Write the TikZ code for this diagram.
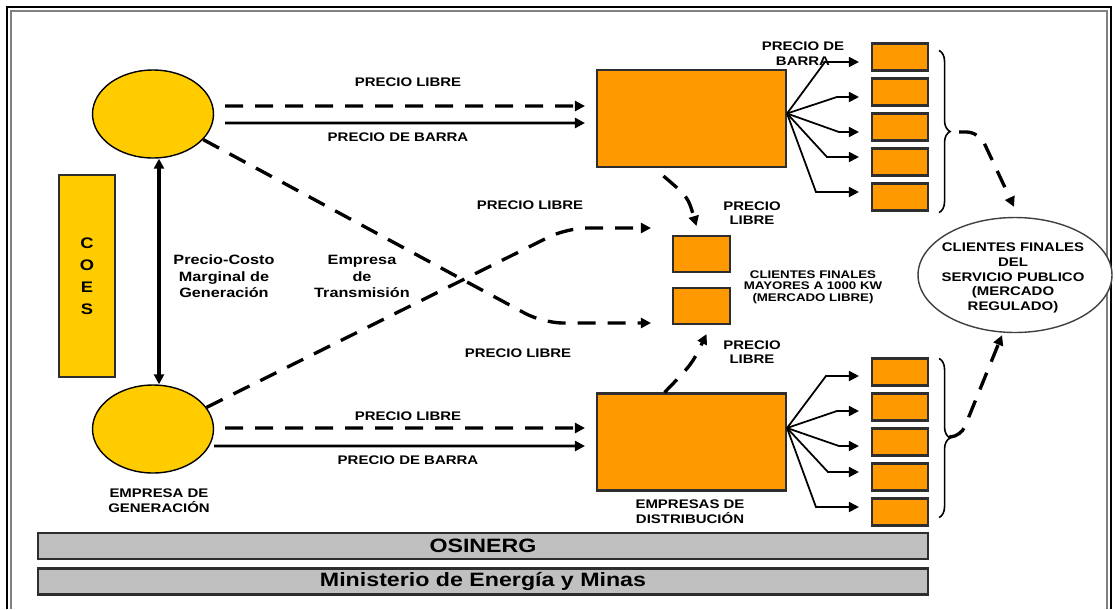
\documentclass[tikz,border=0pt]{standalone}
\usepackage{fontspec}
\setmainfont{Liberation Sans}[FakeStretch=1.2]
\usetikzlibrary{arrows.meta,calc,shapes.geometric,decorations.pathreplacing}
\definecolor{genyellow}{HTML}{FFCC00}
\definecolor{distorange}{HTML}{FF9900}
\definecolor{bargray}{HTML}{C0C0C0}
\definecolor{edgegray}{HTML}{2E2E2E}

\begin{document}
\begin{tikzpicture}
    [x=0.02cm,y=-0.02cm,>={Triangle[length=0.2cm,width=0.2cm]},
    gen/.style={ellipse,draw=black,thick,fill=genyellow,minimum width=2.42cm,minimum height=1.76cm},
    coesbox/.style={rectangle,draw=edgegray,line width=1.2pt,fill=genyellow,minimum width=1.12cm,minimum height=4.04cm,
        align=center,font=\fontsize{8.7}{12.5}\selectfont\bfseries},
    dist/.style={rectangle,draw=edgegray,line width=1.2pt,fill=distorange,minimum width=3.78cm,minimum height=1.94cm},
    client/.style={rectangle,draw=edgegray,line width=1.2pt,fill=distorange,minimum width=1.12cm,minimum height=0.54cm},
    bigclient/.style={rectangle,draw=edgegray,line width=1.2pt,fill=distorange,minimum width=1.14cm,minimum height=0.72cm},
    regulated/.style={ellipse,draw=black!75,thick,fill=white,minimum width=3.88cm,minimum height=2.3cm},
    agency/.style={rectangle,draw=edgegray,line width=1.2pt,fill=bargray,minimum width=17.8cm,minimum height=0.52cm,
        inner sep=0pt,font=\fontsize{11}{13}\selectfont\bfseries},
    lbl/.style={inner sep=0pt,align=center,font=\fontsize{7.1}{8.3}\selectfont\bfseries},
    tinylbl/.style={inner sep=0pt,align=center,font=\fontsize{6.3}{6.6}\selectfont\bfseries},
    notelbl/.style={inner sep=0pt,align=center,font=\fontsize{7.7}{9.4}\selectfont\bfseries},
    libre/.style={->,line width=1.9pt,dash pattern=on 0.36cm off 0.24cm},
    barra/.style={->,line width=1.6pt},
    fan/.style={->,line width=1pt},
    brace/.style={decorate,decoration={brace,amplitude=0.22cm},line width=0.9pt}]

    \useasboundingbox (0,0) rectangle (1115,609);
    \draw[line width=1.6pt] (7,609) -- (7,7) -- (1111,7) -- (1111,609);
    \draw[gray,line width=0.8pt] (11,609) -- (11,11) -- (1107,11) -- (1107,609);

    % generadoras y COES
    \node[gen] (genA) at (153,114) {};
    \node[gen] (genB) at (153,429) {};
    \node[coesbox] (coes) at (87,276) {C\\O\\E\\S};
    \node[lbl] (genlbl) at (159,500.5) {EMPRESA DE\\GENERACIÓN};
    \node[notelbl] (costo) at (224,276.5) {Precio-Costo\\Marginal de\\Generación};
    \node[notelbl] (transm) at (362,276.5) {Empresa\\de\\Transmisión};

    % distribuidoras
    \node[dist] (distA) at (691.5,118.5) {};
    \node[dist] (distB) at (691.5,442) {};
    \node[lbl] (distlbl) at (690,511.5) {EMPRESAS DE\\DISTRIBUCIÓN};

    % clientes
    \foreach \i/\y in {1/57,2/92,3/127,4/162,5/197}
        \node[client] (cA\i) at (900,\y) {};
    \foreach \i/\y in {1/372,2/407,3/442,4/477,5/512}
        \node[client] (cB\i) at (900,\y) {};
    \node[bigclient] (ml1) at (701.5,254) {};
    \node[bigclient] (ml2) at (701.5,306) {};
    \node[tinylbl] (mllbl) at (813,287) {CLIENTES FINALES\\MAYORES A 1000 KW\\(MERCADO LIBRE)};
    \node[regulated] (reg) at (1015,275) {};
    \node[lbl] (reglbl) at (1013,278) {CLIENTES FINALES\\DEL\\SERVICIO PUBLICO\\(MERCADO\\REGULADO)};

    \node[agency] (osinerg) at (483,546) {OSINERG};
    \node[agency] (minem) at (483,581.5) {Ministerio de Energía y Minas};

    % precios
    \node[lbl] (plA) at (408,82) {PRECIO LIBRE};
    \node[lbl] (pbA) at (398,137) {PRECIO DE BARRA};
    \node[lbl] (plB) at (408,416) {PRECIO LIBRE};
    \node[lbl] (pbB) at (408,460) {PRECIO DE BARRA};
    \node[lbl] (plX1) at (530,205) {PRECIO LIBRE};
    \node[lbl] (plX2) at (518,353) {PRECIO LIBRE};
    \node[lbl] (plD1) at (752,213) {PRECIO\\LIBRE};
    \node[lbl] (plD2) at (752,352) {PRECIO\\LIBRE};
    \node[lbl] (pbD) at (803,53.5) {PRECIO DE\\BARRA};

    \draw[libre] ([xshift=0.22cm,yshift=0.16cm]genA.east) -- ([xshift=-0.22cm,yshift=0.25cm]distA.west);
    \draw[barra] ([xshift=0.22cm,yshift=-0.18cm]genA.east) -- ([xshift=-0.22cm,yshift=-0.09cm]distA.west);
    \draw[libre] ([xshift=0.22cm,yshift=0.02cm]genB.east) -- ([xshift=-0.22cm,yshift=0.28cm]distB.west);
    \draw[barra] ([yshift=-0.34cm]genB.east) -- ([xshift=-0.22cm,yshift=-0.08cm]distB.west);
    \draw[<->,line width=2pt] ([xshift=0.12cm]genA.south) -- ([xshift=0.12cm]genB.north);

    \draw[libre,rounded corners=0.4cm] (genA.-27) -- (543,323) -- ([xshift=-0.42cm,yshift=-0.34cm]ml2.west);
    \draw[libre,rounded corners=0.4cm] (genB.22) -- (567,228) -- ([xshift=-0.42cm,yshift=0.52cm]ml1.west);
    \draw[libre] ($(distA.south)+(-28,8)$) .. controls (688,197) .. ($(ml1.north)+(-5,-9)$);
    \draw[libre] ($(distB.north)+(-27,0)$) .. controls (692,364) .. ($(ml2.south)+(5,9)$);

    \coordinate (fanA) at ($(distA.east)+(0,-5)$);
    \coordinate (fanB) at ($(distB.east)+(0,-14)$);
    \foreach \i/\dx/\dy in {1/-46/5,2/-34/5,3/-32/5,4/-44/-5,5/-55/-5}
        \draw[fan] (fanA) -- ($(cA\i.west)+(\dx,\dy)$) -- ($(cA\i.west)+(-12,\dy)$);
    \foreach \i/\dx/\dy in {1/-45/4,2/-34/4,3/-32/4,4/-43/-5,5/-55/-5}
        \draw[fan] (fanB) -- ($(cB\i.west)+(\dx,\dy)$) -- ($(cB\i.west)+(-12,\dy)$);

    \draw[brace] ($(cA1.north east)+(10,8)$) -- ($(cA5.south east)+(10,1)$);
    \draw[brace] ($(cB1.north east)+(10,1)$) -- ($(cB5.south east)+(10,-9)$);
    \coordinate (tipA) at ($(cA3.east)+(30,5)$);
    \coordinate (tipB) at ($(cB3.east)+(20,-5)$);
    \draw[libre,rounded corners=0.25cm] (tipA) -- (979,132) -- ($(reg.north)+(-1,-10)$);
    \draw[libre,rounded corners=0.2cm] (tipB) -- (961,436) -- ($(reg.south)+(-13,2)$);
\end{tikzpicture}
\end{document}
